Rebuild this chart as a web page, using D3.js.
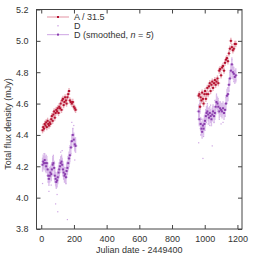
<!DOCTYPE html>
<html>
<head>
<meta charset="utf-8">
<script src="https://cdn.jsdelivr.net/npm/d3@7"></script>
<style>
  body { margin: 0; background: #fff; }
  text { font-family: "Liberation Sans", Arial, sans-serif; }
</style>
</head>
<body>
<div id="chart"></div>
<script>
// epochs (Julian date - 2449400), two observing seasons
const dates1 = [8, 12, 17, 21, 26, 30, 34, 39, 43, 47, 52, 56, 61, 65, 70, 74, 79, 83, 88, 92, 97, 101, 106, 110, 115, 119, 124, 128, 133, 137, 142, 146, 151, 155, 160, 165, 170, 175, 181, 187, 193, 199, 205, 210];
const dates2 = [963, 967, 971, 975, 980, 984, 989, 993, 998, 1002, 1007, 1011, 1016, 1021, 1026, 1031, 1036, 1041, 1046, 1051, 1057, 1062, 1067, 1072, 1078, 1083, 1089, 1094, 1100, 1106, 1112, 1118, 1124, 1130, 1136, 1142, 1148, 1154, 1160, 1166, 1172, 1178, 1184, 1190];

// A / 31.5
const aVals1 = [4.43, 4.45, 4.44, 4.47, 4.46, 4.48, 4.45, 4.49, 4.47, 4.46, 4.48, 4.47, 4.50, 4.52, 4.49, 4.53, 4.55, 4.51, 4.54, 4.56, 4.55, 4.57, 4.54, 4.58, 4.57, 4.60, 4.56, 4.62, 4.63, 4.59, 4.61, 4.64, 4.62, 4.60, 4.64, 4.66, 4.68, 4.62, 4.61, 4.60, 4.61, 4.58, 4.57, 4.56];
const aVals2 = [4.65, 4.66, 4.58, 4.64, 4.62, 4.67, 4.63, 4.60, 4.66, 4.68, 4.63, 4.66, 4.70, 4.66, 4.71, 4.73, 4.68, 4.72, 4.74, 4.70, 4.73, 4.75, 4.72, 4.74, 4.76, 4.73, 4.81, 4.82, 4.78, 4.83, 4.84, 4.81, 4.86, 4.88, 4.89, 4.87, 4.92, 4.95, 5.00, 4.96, 4.94, 4.95, 4.98, 4.98];

// D raw
const dVals1 = [4.09, 4.25, 4.28, 4.20, 4.17, 4.27, 4.24, 4.12, 4.10, 4.04, 4.19, 4.13, 4.08, 4.22, 4.26, 4.27, 4.15, 4.16, 3.96, 4.07, 4.02, 3.91, 4.20, 4.14, 4.24, 4.29, 4.26, 4.30, 4.21, 4.12, 4.19, 4.10, 4.09, 4.22, 3.86, 4.26, 4.20, 4.33, 4.28, 4.48, 4.44, 4.46, 4.24, 4.38];
const dVals2 = [4.35, 4.58, 4.60, 4.40, 4.50, 4.45, 4.25, 4.39, 4.52, 4.43, 4.56, 4.48, 4.60, 4.47, 4.57, 4.46, 4.59, 4.52, 4.33, 4.58, 4.48, 4.62, 4.53, 4.66, 4.55, 4.63, 4.50, 4.61, 4.47, 4.60, 4.48, 4.59, 4.52, 4.64, 4.60, 4.70, 4.68, 4.80, 4.77, 4.88, 4.83, 4.74, 4.81, 4.75];

// D smoothed, n = 5
const sVals1 = [4.21, 4.23, 4.22, 4.24, 4.22, 4.20, 4.22, 4.18, 4.14, 4.12, 4.14, 4.16, 4.15, 4.18, 4.21, 4.22, 4.19, 4.14, 4.12, 4.10, 4.11, 4.13, 4.16, 4.18, 4.20, 4.22, 4.23, 4.21, 4.18, 4.16, 4.14, 4.15, 4.13, 4.17, 4.19, 4.22, 4.25, 4.27, 4.32, 4.36, 4.40, 4.37, 4.34, 4.33];
const sVals2 = [4.55, 4.50, 4.58, 4.47, 4.44, 4.42, 4.46, 4.44, 4.47, 4.49, 4.52, 4.54, 4.55, 4.53, 4.51, 4.54, 4.52, 4.50, 4.53, 4.55, 4.52, 4.54, 4.58, 4.61, 4.60, 4.58, 4.55, 4.57, 4.56, 4.55, 4.57, 4.54, 4.56, 4.60, 4.65, 4.66, 4.72, 4.76, 4.81, 4.85, 4.80, 4.79, 4.77, 4.78];

const aErr = 0.02;
const sErr = 0.045;

const xTicks = [0, 200, 400, 600, 800, 1000, 1200];
const yTicks = [3.8, 4.0, 4.2, 4.4, 4.6, 4.8, 5.0, 5.2];

const W = 258, H = 258;
const margin = {top: 9.5, right: 16, bottom: 29, left: 36.5};

const svg = d3.select("#chart").append("svg")
  .attr("width", W).attr("height", H);

const x = d3.scaleLinear().domain([-29, 1228]).range([margin.left, W - margin.right]);
const y = d3.scaleLinear().domain([3.8, 5.2]).range([H - margin.bottom, margin.top]);

const axisCol = "#444";

// frame
svg.append("rect")
  .attr("x", margin.left).attr("y", margin.top)
  .attr("width", W - margin.left - margin.right)
  .attr("height", H - margin.top - margin.bottom)
  .attr("fill", "none").attr("stroke", axisCol).attr("stroke-width", 1);

// axes, ticks pointing inward on all sides
function styleAxis(g) {
  g.select(".domain").remove();
  g.selectAll(".tick line").attr("stroke", axisCol);
  g.selectAll(".tick text").attr("fill", "#333").style("font-size", "9px");
}
svg.append("g")
  .attr("transform", "translate(0," + (H - margin.bottom) + ")")
  .call(d3.axisBottom(x).tickValues(xTicks).tickSizeInner(-4).tickPadding(7).tickFormat(d3.format("d")))
  .call(styleAxis);
svg.append("g")
  .attr("transform", "translate(0," + margin.top + ")")
  .call(d3.axisTop(x).tickValues(xTicks).tickSizeInner(-4).tickFormat(""))
  .call(styleAxis);
svg.append("g")
  .attr("transform", "translate(" + margin.left + ",0)")
  .call(d3.axisLeft(y).tickValues(yTicks).tickSizeInner(-4).tickPadding(8).tickFormat(d3.format(".1f")))
  .call(styleAxis);
svg.append("g")
  .attr("transform", "translate(" + (W - margin.right) + ",0)")
  .call(d3.axisRight(y).tickValues(yTicks).tickSizeInner(-4).tickFormat(""))
  .call(styleAxis);

// axis titles
svg.append("text")
  .attr("x", (margin.left + W - margin.right) / 2).attr("y", 253)
  .attr("text-anchor", "middle").style("font-size", "9px").attr("fill", "#333")
  .text("Julian date - 2449400");
svg.append("text")
  .attr("transform", "translate(11,124) rotate(-90)")
  .attr("text-anchor", "middle").style("font-size", "9px").attr("fill", "#333")
  .text("Total flux density (mJy)");

const colA = "#b5122f", colAbar = "#e8a5b2";
const colD = "#c08ddc";
const colS = "#8b3fae", colSbar = "#d6b4e8";

function pts(dates, vals) { return dates.map((d, i) => ({x: d, y: vals[i]})); }

const plot = svg.append("g");

// raw D: tiny dots
const rawD = pts(dates1, dVals1).concat(pts(dates2, dVals2));
plot.selectAll("rect.raw").data(rawD).enter().append("rect")
  .attr("class", "raw")
  .attr("x", d => x(d.x) - 0.6).attr("y", d => y(d.y) - 0.6)
  .attr("width", 1.2).attr("height", 1.2)
  .attr("fill", colD).attr("opacity", 0.8);

function errSeries(data, err, barCol, ptCol, cls) {
  const g = plot.append("g").attr("class", cls);
  g.selectAll("line.v").data(data).enter().append("line")
    .attr("x1", d => x(d.x)).attr("x2", d => x(d.x))
    .attr("y1", d => y(d.y - err)).attr("y2", d => y(d.y + err))
    .attr("stroke", barCol).attr("stroke-width", 1.4).attr("opacity", 0.85);
  g.selectAll("line.h").data(data).enter().append("line")
    .attr("x1", d => x(d.x) - 2).attr("x2", d => x(d.x) + 2)
    .attr("y1", d => y(d.y)).attr("y2", d => y(d.y))
    .attr("stroke", barCol).attr("stroke-width", 1).attr("opacity", 0.85);
  g.selectAll("rect").data(data).enter().append("rect")
    .attr("x", d => x(d.x) - 1).attr("y", d => y(d.y) - 1)
    .attr("width", 2).attr("height", 2)
    .attr("fill", ptCol);
}

errSeries(pts(dates1, sVals1).concat(pts(dates2, sVals2)), sErr, colSbar, colS, "smooth");
errSeries(pts(dates1, aVals1).concat(pts(dates2, aVals2)), aErr, colAbar, colA, "seriesA");

// legend
const legend = [
  {label: "A / 31.5", line: colAbar, pt: colA, size: 2},
  {label: "D", line: null, pt: colD, size: 1.2},
  {label: "D (smoothed, ", line: colSbar, pt: colS, size: 2, smooth: true}
];
const lg = svg.append("g");
legend.forEach((d, i) => {
  const cy = 17 + i * 8.8;
  if (d.line) {
    lg.append("line").attr("x1", 47).attr("x2", 69).attr("y1", cy).attr("y2", cy)
      .attr("stroke", d.line).attr("stroke-width", 1.2);
  }
  lg.append("rect").attr("x", 58 - d.size / 2).attr("y", cy - d.size / 2)
    .attr("width", d.size).attr("height", d.size).attr("fill", d.pt);
  const t = lg.append("text").attr("x", 74).attr("y", cy + 3.2)
    .style("font-size", "9px").attr("fill", "#333");
  if (d.smooth) {
    t.append("tspan").text("D (smoothed, ");
    t.append("tspan").style("font-style", "italic").text("n");
    t.append("tspan").text(" = ");
    t.append("tspan").style("font-style", "italic").text("5");
    t.append("tspan").text(")");
  } else {
    t.text(d.label);
  }
});
</script>
</body>
</html>
